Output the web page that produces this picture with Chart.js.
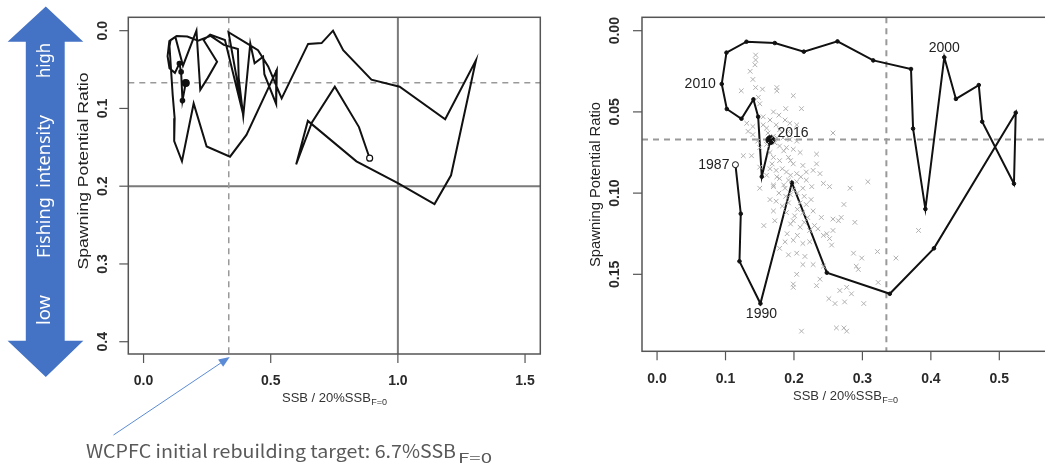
<!DOCTYPE html>
<html>
<head>
<meta charset="utf-8">
<script src="https://cdn.jsdelivr.net/npm/chart.js@4.4.1/dist/chart.umd.min.js"></script>
<style>
html,body{margin:0;padding:0;background:#fff;overflow:hidden;width:1045px;height:465px;}
canvas{position:absolute;top:0;}
#left{left:0;}
#right{left:545px;}
</style>
</head>
<body>
<canvas id="left" width="545" height="465"></canvas>
<canvas id="right" width="520" height="465"></canvas>
<script>
// ---------------- DATA ----------------
// Early part of the long trajectory (left panel only), start year first
const earlySSB = [0.889,0.847,0.752,0.662,0.600,0.646,0.837,1.000,1.144,1.209,1.307,1.186,1.007,0.896,0.785,0.745,0.700,0.647,0.543,0.490,0.450,0.400,0.334,0.392,0.320,0.262,0.236,0.289,0.252,0.223,0.208,0.155,0.125,0.106,0.102];
const earlySPR = [0.164,0.124,0.072,0.118,0.172,0.116,0.168,0.196,0.223,0.186,0.038,0.114,0.072,0.063,0.025,0.000,0.016,0.017,0.087,0.046,0.025,0.015,0.002,0.108,0.012,0.005,0.012,0.040,0.061,0.076,0.000,0.045,0.008,0.012,0.020];
// Recent trajectory 1987-2016 (both panels)
const years = [1987,1988,1989,1990,1991,1992,1993,1994,1995,1996,1997,1998,1999,2000,2001,2002,2003,2004,2005,2006,2007,2008,2009,2010,2011,2012,2013,2014,2015,2016];
const recentSSB = [0.1145,0.1223,0.1204,0.151,0.197,0.248,0.340,0.4045,0.524,0.5214,0.475,0.470,0.4366,0.4196,0.392,0.374,0.371,0.3158,0.2636,0.2144,0.172,0.1306,0.1014,0.0945,0.1019,0.1233,0.1408,0.1477,0.153,0.1657];
const recentSPR = [0.0825,0.1127,0.142,0.168,0.0936,0.149,0.162,0.134,0.0505,0.0942,0.056,0.0335,0.042,0.0164,0.1098,0.0603,0.0236,0.0183,0.0066,0.0129,0.0076,0.0068,0.0135,0.0328,0.0482,0.0542,0.0423,0.053,0.0899,0.0673];
// Uncertainty cloud (gray crosses, right panel)
const cloudSSB = [0.144,0.144,0.143,0.136,0.140,0.144,0.123,0.154,0.175,0.175,0.199,0.148,0.150,0.211,0.188,0.170,0.178,0.187,0.155,0.165,0.131,0.140,0.174,0.194,0.204,0.160,0.179,0.192,0.133,0.140,0.257,0.170,0.184,0.194,0.204,0.172,0.179,0.189,0.199,0.209,0.126,0.138,0.170,0.192,0.233,0.179,0.199,0.213,0.233,0.150,0.165,0.174,0.189,0.204,0.218,0.228,0.238,0.160,0.179,0.192,0.204,0.218,0.243,0.150,0.170,0.187,0.199,0.213,0.226,0.252,0.282,0.308,0.165,0.174,0.192,0.209,0.218,0.170,0.189,0.201,0.213,0.228,0.240,0.257,0.269,0.273,0.289,0.156,0.172,0.199,0.209,0.223,0.235,0.248,0.257,0.265,0.187,0.199,0.213,0.223,0.243,0.252,0.255,0.179,0.192,0.204,0.216,0.228,0.213,0.243,0.287,0.299,0.322,0.349,0.382,0.204,0.199,0.199,0.233,0.238,0.291,0.294,0.323,0.251,0.260,0.274,0.284,0.267,0.302,0.277,0.262,0.273,0.277,0.211,0.160,0.165,0.185,0.195,0.168,0.183,0.175,0.195,0.210,0.185,0.178,0.195,0.205,0.215,0.225,0.183,0.205,0.220,0.195,0.215,0.230,0.190,0.205,0.175,0.162,0.155,0.147,0.150,0.170,0.188];
const cloudSPR = [0.015,0.018,0.021,0.025,0.030,0.035,0.037,0.036,0.035,0.037,0.040,0.041,0.045,0.048,0.048,0.050,0.052,0.055,0.053,0.055,0.057,0.059,0.058,0.057,0.058,0.060,0.061,0.062,0.062,0.064,0.063,0.065,0.066,0.067,0.068,0.069,0.071,0.072,0.073,0.075,0.077,0.077,0.078,0.078,0.076,0.080,0.082,0.083,0.082,0.084,0.085,0.086,0.087,0.088,0.087,0.086,0.088,0.089,0.091,0.092,0.093,0.092,0.094,0.097,0.096,0.097,0.098,0.097,0.096,0.096,0.097,0.093,0.104,0.105,0.106,0.106,0.107,0.111,0.112,0.114,0.112,0.111,0.115,0.116,0.115,0.107,0.118,0.120,0.117,0.117,0.121,0.123,0.122,0.125,0.123,0.117,0.130,0.129,0.131,0.130,0.126,0.128,0.132,0.134,0.138,0.137,0.139,0.144,0.144,0.145,0.137,0.140,0.136,0.140,0.123,0.150,0.156,0.158,0.157,0.153,0.145,0.147,0.155,0.165,0.168,0.167,0.162,0.160,0.168,0.158,0.183,0.183,0.185,0.185,0.070,0.075,0.074,0.080,0.082,0.085,0.090,0.089,0.090,0.095,0.100,0.101,0.100,0.102,0.104,0.108,0.110,0.115,0.119,0.118,0.120,0.125,0.126,0.066,0.063,0.058,0.068,0.072,0.095,0.102];
// Reference values
const sprTargetLine = 0.067;      // dashed horizontal
const ssbRebuildLine = 0.335;     // dashed vertical (6.7% SSB F=0 relative to 20%)
const leftSolidSPR = 0.2;
const leftSolidSSB = 1.0;
// Tick labels
const leftXTicks = ['0.0','0.5','1.0','1.5'];
const leftYTicks = ['0.0','0.1','0.2','0.3','0.4'];
const rightXTicks = ['0.0','0.1','0.2','0.3','0.4','0.5'];
const rightYTicks = ['0.00','0.05','0.10','0.15'];
// Year labels on right panel
const labelYears = [1987,1990,2000,2010,2016];
// Text
const xTitleMain = 'SSB / 20%SSB', xTitleSub = 'F=0';
const yTitle = 'Spawning Potential Ratio';
const noteMain = 'WCPFC initial rebuilding target: 6.7%SSB', noteSub = 'F=0';
const arrowWords = ['high','Fishing  intensity','low'];

// ---------------- helpers ----------------
const pts = (xs, ys) => xs.map((x, i) => ({x: x, y: ys[i]}));
function txt(ctx, s, x, y, font, opts) {
  opts = opts || {};
  ctx.save();
  ctx.translate(x, y);
  if (opts.rot) ctx.rotate(opts.rot);
  ctx.font = font;
  ctx.fillStyle = opts.color || '#222';
  ctx.textAlign = opts.align || 'center';
  ctx.textBaseline = opts.base || 'middle';
  if (opts.w) { const m = ctx.measureText(s).width; ctx.scale(opts.w / m, 1); }
  ctx.fillText(s, 0, 0);
  ctx.restore();
}
function subTitle(ctx, main, sub, cx, cy, mainFont, subFont, color) {
  ctx.save();
  ctx.font = mainFont; const w1 = ctx.measureText(main).width;
  ctx.font = subFont; const w2 = ctx.measureText(sub).width;
  const x0 = cx - (w1 + w2) / 2;
  ctx.fillStyle = color; ctx.textBaseline = 'alphabetic'; ctx.textAlign = 'left';
  ctx.font = mainFont; ctx.fillText(main, x0, cy);
  ctx.font = subFont; ctx.fillText(sub, x0 + w1 + 0.5, cy + 3);
  ctx.restore();
}
function refLines(chart, hv, vv, color, dash, width) {
  const {ctx, chartArea: a, scales} = chart;
  ctx.save();
  ctx.strokeStyle = color; ctx.lineWidth = width; ctx.setLineDash(dash);
  if (hv !== null) { const y = scales.y.getPixelForValue(hv); ctx.beginPath(); ctx.moveTo(a.left, y); ctx.lineTo(a.right, y); ctx.stroke(); }
  if (vv !== null) { const x = scales.x.getPixelForValue(vv); ctx.beginPath(); ctx.moveTo(x, a.top); ctx.lineTo(x, a.bottom); ctx.stroke(); }
  ctx.restore();
}
function rAxes(chart, xt, yt, cfg) {
  const {ctx, chartArea: a, scales} = chart;
  ctx.save();
  ctx.strokeStyle = '#555'; ctx.lineWidth = 1.5; ctx.setLineDash([]);
  ctx.strokeRect(a.left, a.top, a.right - a.left, a.bottom - a.top);
  ctx.lineWidth = 1.2;
  xt.forEach(t => {
    const x = scales.x.getPixelForValue(parseFloat(t));
    ctx.beginPath(); ctx.moveTo(x, a.bottom); ctx.lineTo(x, a.bottom + 9); ctx.stroke();
    txt(ctx, t, x, cfg.xLabY, 'bold 14px "Liberation Sans", Arial', {color: '#2a2a2a'});
  });
  yt.forEach(t => {
    const y = scales.y.getPixelForValue(parseFloat(t));
    ctx.beginPath(); ctx.moveTo(a.left, y); ctx.lineTo(a.left - 9, y); ctx.stroke();
    txt(ctx, t, cfg.yLabX, y, 'bold 14px "Liberation Sans", Arial', {color: '#2a2a2a', rot: -Math.PI / 2});
  });
  subTitle(ctx, xTitleMain, xTitleSub, (a.left + a.right) / 2 + (cfg.xTitleDx || 0), cfg.xTitleY, '13px "Liberation Sans", Arial', '9px "Liberation Sans", Arial', '#333');
  txt(ctx, yTitle, cfg.yTitleX, cfg.yTitleY, '14px "Liberation Sans", Arial', {color: '#222', rot: -Math.PI / 2, w: cfg.yTitleW});
  ctx.restore();
}

// ---------------- LEFT CHART ----------------
const leftSSB = earlySSB.concat(recentSSB);
const leftSPR = earlySPR.concat(recentSPR);
const nL = leftSSB.length;
const leftRadius = leftSSB.map((v, i) => i === 0 ? 3 : (i === nL - 1 ? 3.5 : (i >= nL - 4 ? 2.2 : 0)));
const leftFill = leftSSB.map((v, i) => i === 0 ? '#fff' : '#111');

const leftPlugin = {
  id: 'leftDeco',
  beforeDatasetsDraw(chart) {
    refLines(chart, leftSolidSPR, leftSolidSSB, '#7a7a7a', [], 2);
    refLines(chart, sprTargetLine, ssbRebuildLine, '#999', [6, 5], 1.5);
  },
  afterDraw(chart) {
    const ctx = chart.ctx;
    rAxes(chart, leftXTicks, leftYTicks, {xLabY: 381, yLabX: 103, xTitleY: 402, yTitleX: 84, yTitleY: 171, yTitleW: 197});
    // Big double-headed blue arrow
    ctx.save();
    ctx.fillStyle = '#4472C4';
    ctx.beginPath();
    ctx.moveTo(45.8, 6.5); ctx.lineTo(83.3, 41.7); ctx.lineTo(64.7, 41.7); ctx.lineTo(64.7, 340.7);
    ctx.lineTo(83.3, 340.7); ctx.lineTo(45.8, 377); ctx.lineTo(7.6, 340.7); ctx.lineTo(25.8, 340.7);
    ctx.lineTo(25.8, 41.7); ctx.lineTo(7.6, 41.7); ctx.closePath(); ctx.fill();
    ctx.restore();
    const f = '18px "Noto Sans", "Open Sans", sans-serif';
    txt(ctx, arrowWords[0], 45, 60.5, f, {color: '#fff', rot: -Math.PI / 2, w: 35});
    txt(ctx, arrowWords[1], 45, 186.5, f, {color: '#fff', rot: -Math.PI / 2, w: 143});
    txt(ctx, arrowWords[2], 45, 310, f, {color: '#fff', rot: -Math.PI / 2, w: 30});
    // Thin pointer arrow
    ctx.save();
    ctx.strokeStyle = '#5B8BD6'; ctx.fillStyle = '#5B8BD6'; ctx.lineWidth = 1;
    const x1 = 113.5, y1 = 435, x2 = chart.scales.x.getPixelForValue(ssbRebuildLine) + 1, y2 = 357;
    const ang = Math.atan2(y2 - y1, x2 - x1);
    ctx.beginPath(); ctx.moveTo(x1, y1); ctx.lineTo(x2 - 9 * Math.cos(ang), y2 - 9 * Math.sin(ang)); ctx.stroke();
    ctx.beginPath();
    ctx.moveTo(x2, y2);
    ctx.lineTo(x2 - 11 * Math.cos(ang) + 4.5 * Math.sin(ang), y2 - 11 * Math.sin(ang) - 4.5 * Math.cos(ang));
    ctx.lineTo(x2 - 11 * Math.cos(ang) - 4.5 * Math.sin(ang), y2 - 11 * Math.sin(ang) + 4.5 * Math.cos(ang));
    ctx.closePath(); ctx.fill();
    ctx.restore();
    // Note text
    ctx.save();
    ctx.font = '18px "Noto Sans CJK JP", "Noto Sans", sans-serif';
    const mw = ctx.measureText(noteMain).width;
    ctx.fillStyle = '#595959'; ctx.textBaseline = 'alphabetic';
    ctx.translate(86, 458); ctx.scale(370 / mw, 1);
    ctx.fillText(noteMain, 0, 0);
    ctx.restore();
    ctx.save();
    ctx.font = '13px "Noto Sans CJK JP", "Noto Sans", sans-serif';
    ctx.fillStyle = '#595959'; ctx.textBaseline = 'alphabetic';
    const sw = ctx.measureText(noteSub).width;
    ctx.translate(458, 463); ctx.scale(34 / sw, 1);
    ctx.fillText(noteSub, 0, 0);
    ctx.restore();
  }
};

new Chart(document.getElementById('left'), {
  type: 'scatter',
  data: {
    datasets: [{
      data: pts(leftSSB, leftSPR),
      showLine: true,
      borderColor: '#111', borderWidth: 2, tension: 0,
      pointRadius: leftRadius, pointBackgroundColor: leftFill, pointBorderColor: '#111', pointBorderWidth: 1.2,
      pointHoverRadius: 0
    }]
  },
  options: {
    responsive: false, animation: false, devicePixelRatio: 1,
    layout: {padding: {left: 128.3, top: 17.3, right: 4, bottom: 465 - 354}},
    plugins: {legend: {display: false}, tooltip: {enabled: false}},
    scales: {
      x: {type: 'linear', display: false, min: -0.06, max: 1.56},
      y: {type: 'linear', display: false, reverse: true, min: -0.0172, max: 0.4158}
    }
  },
  plugins: [leftPlugin]
});

// ---------------- RIGHT CHART ----------------
const nR = recentSSB.length;
const rightRadius = recentSSB.map((v, i) => i === 0 ? 3 : (i === nR - 1 ? 4.5 : 1.8));
const rightFill = recentSSB.map((v, i) => i === 0 ? '#fff' : '#111');
const labelSide = {1987: 'left', 1990: 'below', 2000: 'above', 2010: 'left', 2016: 'right'};

const rightPlugin = {
  id: 'rightDeco',
  beforeDatasetsDraw(chart) {
    refLines(chart, sprTargetLine, ssbRebuildLine, '#999', [6, 5], 2);
  },
  afterDraw(chart) {
    const ctx = chart.ctx;
    rAxes(chart, rightXTicks, rightYTicks, {xLabY: 379.5, yLabX: 70, xTitleY: 400, yTitleX: 51, yTitleY: 184.5, yTitleW: 165});
    const meta = chart.getDatasetMeta(1);
    labelYears.forEach(yr => {
      const i = years.indexOf(yr);
      const el = meta.data[i];
      const side = labelSide[yr];
      const f = '14px "Liberation Sans", Arial';
      if (side === 'left') txt(ctx, String(yr), el.x - 6, el.y, f, {align: 'right', color: '#222'});
      else if (side === 'right') txt(ctx, String(yr), el.x + 7, el.y - 7, f, {align: 'left', color: '#222'});
      else if (side === 'above') txt(ctx, String(yr), el.x, el.y - 9, f, {color: '#222'});
      else txt(ctx, String(yr), el.x + 1, el.y + 11, f, {color: '#222'});
    });
  }
};

new Chart(document.getElementById('right'), {
  type: 'scatter',
  data: {
    datasets: [{
      data: pts(cloudSSB, cloudSPR),
      pointStyle: 'crossRot', pointRadius: 3.3, borderColor: '#b0b0b0', borderWidth: 1,
      pointHoverRadius: 0, showLine: false
    }, {
      data: pts(recentSSB, recentSPR),
      showLine: true,
      borderColor: '#111', borderWidth: 2, tension: 0,
      pointRadius: rightRadius, pointBackgroundColor: rightFill, pointBorderColor: '#111', pointBorderWidth: 1,
      pointHoverRadius: 0
    }]
  },
  options: {
    responsive: false, animation: false, devicePixelRatio: 1,
    layout: {padding: {left: 97, top: 17.3, right: 16.4, bottom: 465 - 351.3}},
    plugins: {legend: {display: false}, tooltip: {enabled: false}},
    scales: {
      x: {type: 'linear', display: false, min: -0.022, max: 0.572},
      y: {type: 'linear', display: false, reverse: true, min: -0.00825, max: 0.1974}
    }
  },
  plugins: [rightPlugin]
});
</script>
</body>
</html>
